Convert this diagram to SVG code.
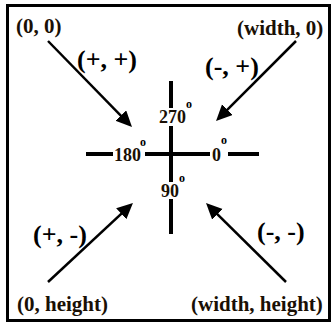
<svg xmlns="http://www.w3.org/2000/svg" width="333" height="324" viewBox="0 0 333 324">
<style>
.coord{font-family:"Liberation Serif","Times New Roman",serif;font-weight:bold;font-size:21px;fill:#1a1005}
.sign{font-family:"Liberation Serif","Times New Roman",serif;font-weight:bold;font-size:26px;fill:#000}
.deg{font-family:"Liberation Serif","Times New Roman",serif;font-weight:bold;font-size:18px;fill:#1a1005}
.sup{font-size:12px;font-weight:bold;fill:#000}
.axis{stroke:#000;stroke-width:4}
.arrow{stroke:#000;stroke-width:2.5;fill:none;marker-end:url(#ah)}
.bg{fill:#fff}
</style>
<defs>
<marker id="ah" markerUnits="userSpaceOnUse" markerWidth="17" markerHeight="16" refX="8" refY="7.5" orient="auto">
<path d="M0,0 L16,7.5 L0,15 z" fill="#000"/>
</marker>
</defs>
<rect x="7.5" y="5.5" width="322" height="315" fill="#fff" stroke="#000" stroke-width="3"/>
<g id="axes">
<line class="axis" x1="171" y1="81" x2="171" y2="234"/>
<line class="axis" x1="86" y1="154" x2="259" y2="154"/>
</g>
<g id="connectors">
<line class="arrow" x1="48" y1="41" x2="126.4" y2="121.3"/>
<line class="arrow" x1="296" y1="41" x2="221.7" y2="115.3"/>
<line class="arrow" x1="48" y1="282" x2="127.1" y2="208.4"/>
<line class="arrow" x1="286" y1="282" x2="211.7" y2="208.6"/>
</g>
<g id="origin"><text class="coord" x="16" y="33">(0, 0)</text></g>
<g id="top-right"><text class="coord" x="237" y="35">(width, 0)</text></g>
<g id="bottom-left"><text class="coord" x="17" y="311">(0, height)</text></g>
<g id="bottom-right"><text class="coord" x="191" y="311">(width, height)</text></g>
<g id="sign-pp"><text class="sign" x="77" y="68">(+, +)</text></g>
<g id="sign-mp"><text class="sign" x="205" y="75">(-, +)</text></g>
<g id="sign-pm"><text class="sign" x="33" y="243">(+, -)</text></g>
<g id="sign-mm"><text class="sign" x="257" y="240">(-, -)</text></g>
<g id="deg270"><rect class="bg" x="158" y="108" width="31" height="18"/><text class="deg" x="159" y="123">270<tspan class="sup" x="186" y="108">o</tspan></text></g>
<g id="deg180"><rect class="bg" x="113" y="145" width="32" height="18"/><text class="deg" x="114" y="161">180<tspan class="sup" x="140" y="146">o</tspan></text></g>
<g id="deg0"><rect class="bg" x="210" y="145" width="18" height="18"/><text class="deg" x="212" y="161">0<tspan class="sup" x="221" y="144">o</tspan></text></g>
<g id="deg90"><rect class="bg" x="160" y="182" width="20" height="17"/><text class="deg" x="161" y="197">90<tspan class="sup" x="179" y="182">o</tspan></text></g>
</svg>
